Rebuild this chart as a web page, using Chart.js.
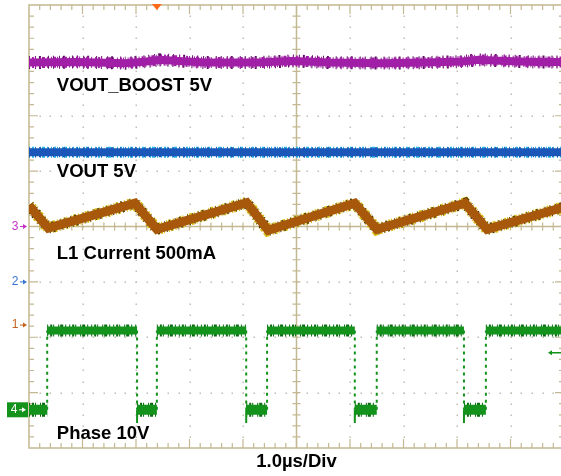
<!DOCTYPE html>
<html>
<head>
<meta charset="utf-8">
<script src="https://cdn.jsdelivr.net/npm/chart.js@4.4.1/dist/chart.umd.min.js"></script>
<style>
  html, body { margin: 0; padding: 0; background: #ffffff; overflow: hidden; }
  #wrap { position: relative; width: 580px; height: 476px; }
</style>
</head>
<body>
<div id="wrap"><canvas id="scope" width="580" height="476"></canvas></div>
<script>
// ---- Trace data (x in µs, 1 µs per division; y in divisions from screen centre) ----
const boostT = [0, 0.9, 1.8, 2.2, 2.45, 2.8, 3.3, 4.3, 4.9, 5.2, 5.6, 6.6, 7.4, 8.1, 8.4, 8.9, 9.5, 10];
const boostV = [2.96, 2.97, 2.95, 2.98, 3.01, 2.99, 2.96, 2.96, 2.99, 2.98, 2.96, 2.95, 2.96, 2.98, 3.01, 2.99, 2.97, 2.97];

const voutT = [0, 10];
const voutV = [1.34, 1.34];

const inductorT = [0, 0.36, 1.98, 2.39, 4.07, 4.47, 6.09, 6.50, 8.15, 8.56, 10.0];
const inductorV = [0.38, -0.03, 0.42, -0.05, 0.43, -0.07, 0.42, -0.05, 0.42, -0.05, 0.35];

const phaseRise = [0.34, 2.39, 4.45, 6.50, 8.54];
const phaseFall = [2.02, 4.06, 6.09, 8.13];
const phaseHigh = -1.88;
const phaseLow = -3.31;
const phaseUndershoot = -3.55;

// ---- Screen annotations ----
const channelLabels = ['VOUT_BOOST 5V', 'VOUT 5V', 'L1 Current 500mA', 'Phase 10V'];
const timebaseLabel = '1.0µs/Div';
const channelMarkers = ['3', '2', '1'];
const markerLevels = [0, -1.0, -1.78];
const triggerTime = 2.39;
const triggerLevel = -2.28;

const X_DIVS = 10, Y_DIVS = 8;

const pts = (ts, vs) => ts.map((t, i) => ({ x: t, y: vs[i] }));

// Phase node: flat high/low plateaus plus the switching edges
const phaseHighPts = [];
phaseRise.forEach((t, i) => {
  const end = i < phaseFall.length ? phaseFall[i] : X_DIVS;
  phaseHighPts.push({ x: t, y: phaseHigh }, { x: end, y: phaseHigh }, { x: end, y: null });
});
const phaseLowPts = [{ x: 0, y: phaseLow }, { x: phaseRise[0], y: phaseLow }, { x: phaseRise[0], y: null }];
phaseFall.forEach((t, i) => {
  phaseLowPts.push({ x: t, y: phaseLow }, { x: phaseRise[i + 1], y: phaseLow }, { x: phaseRise[i + 1], y: null });
});
const phaseEdgePts = [];
phaseRise.forEach(t => phaseEdgePts.push({ x: t, y: phaseLow }, { x: t, y: phaseHigh }, { x: t, y: null }));
phaseFall.forEach(t => phaseEdgePts.push({ x: t, y: phaseHigh }, { x: t, y: phaseLow }, { x: t, y: null }));
const phaseSpikePts = [];
phaseFall.forEach(t => phaseSpikePts.push({ x: t, y: phaseLow }, { x: t, y: phaseUndershoot }, { x: t, y: null }));

function trace(data, color, width, order, extra) {
  return Object.assign({
    data, showLine: true, borderColor: color, borderWidth: width, order,
    pointRadius: 0, pointHoverRadius: 0, fill: false, spanGaps: false,
    borderCapStyle: 'butt', borderJoinStyle: 'miter', tension: 0
  }, extra || {});
}

// uneven dash patterns give the traces a grainy, sampled edge
const GRAIN_A = [1, 2, 2, 1, 1, 4, 1, 1, 3, 2, 1, 3];
const GRAIN_B = [1, 5, 1, 3, 2, 7, 1, 4];

const BOOST = '#a01fa6', BOOST_FUZZ = '#5c0f62';
const VOUT = '#1b57b8', VOUT_FUZZ = '#26b4e6';
const IND = '#a8580a', IND_FUZZ = '#d8c21a';
const PHASE = '#13921c', PHASE_FUZZ = '#0b6a12';
const AXIS = '#c3b892';

// Scope graticule: dotted divisions, border with ticks, centre cross with ticks
const graticule = {
  id: 'graticule',
  beforeDatasetsDraw(chart) {
    const { ctx, chartArea: a, scales: { x, y } } = chart;
    ctx.save();
    ctx.fillStyle = '#c2beb2';
    for (let i = 1; i < X_DIVS; i++) {
      if (i === X_DIVS / 2) continue;
      const px = Math.round(x.getPixelForValue(i));
      for (let k = 1; k < Y_DIVS * 5; k++) {
        const py = Math.round(y.getPixelForValue(-Y_DIVS / 2 + k * 0.2));
        ctx.fillRect(px - 0.5, py - 0.5, 1.5, 1.5);
      }
    }
    for (let j = 1; j < Y_DIVS; j++) {
      if (j === Y_DIVS / 2) continue;
      const py = Math.round(y.getPixelForValue(-Y_DIVS / 2 + j));
      for (let k = 1; k < X_DIVS * 5; k++) {
        const px = Math.round(x.getPixelForValue(k * 0.2));
        ctx.fillRect(px - 0.5, py - 0.5, 1.5, 1.5);
      }
    }
    ctx.strokeStyle = AXIS;
    ctx.lineWidth = 1.5;
    ctx.strokeRect(a.left, a.top, a.right - a.left, a.bottom - a.top);
    const cx = x.getPixelForValue(X_DIVS / 2), cy = y.getPixelForValue(0);
    ctx.beginPath();
    ctx.moveTo(cx, a.top); ctx.lineTo(cx, a.bottom);
    ctx.moveTo(a.left, cy); ctx.lineTo(a.right, cy);
    ctx.stroke();
    ctx.lineWidth = 1.2;
    ctx.beginPath();
    for (let k = 1; k < X_DIVS * 5; k++) {
      const px = x.getPixelForValue(k * 0.2);
      const len = k % 5 === 0 ? 9 : 5;
      ctx.moveTo(px, a.top); ctx.lineTo(px, a.top + len);
      ctx.moveTo(px, a.bottom); ctx.lineTo(px, a.bottom - len);
      ctx.moveTo(px, cy - 4); ctx.lineTo(px, cy + 4);
    }
    for (let k = 1; k < Y_DIVS * 5; k++) {
      const py = y.getPixelForValue(-Y_DIVS / 2 + k * 0.2);
      const len = k % 5 === 0 ? 9 : 5;
      ctx.moveTo(a.left, py); ctx.lineTo(a.left + len, py);
      ctx.moveTo(a.right, py); ctx.lineTo(a.right - len, py);
      ctx.moveTo(cx - 4, py); ctx.lineTo(cx + 4, py);
    }
    ctx.stroke();
    ctx.restore();
  }
};

function arrow(ctx, x0, x1, yv, color, w) {
  const dir = Math.sign(x1 - x0);
  ctx.strokeStyle = color; ctx.fillStyle = color; ctx.lineWidth = w;
  ctx.beginPath(); ctx.moveTo(x0, yv); ctx.lineTo(x1 - dir * 3, yv); ctx.stroke();
  ctx.beginPath();
  ctx.moveTo(x1, yv); ctx.lineTo(x1 - dir * 4, yv - 2.5); ctx.lineTo(x1 - dir * 4, yv + 2.5);
  ctx.closePath(); ctx.fill();
}

// Channel names, timebase, ground markers and trigger indicators
const annotations = {
  id: 'annotations',
  afterDatasetsDraw(chart) {
    const { ctx, chartArea: a, scales: { x, y } } = chart;
    ctx.save();
    ctx.fillStyle = '#000000';
    ctx.font = 'bold 18.5px "Liberation Sans", Arial, sans-serif';
    ctx.textBaseline = 'middle';
    ctx.textAlign = 'left';
    const labelX = x.getPixelForValue(0.52);
    const labelLevels = [2.53, 0.98, -0.50, -3.75];
    channelLabels.forEach((t, i) => ctx.fillText(t, labelX, y.getPixelForValue(labelLevels[i])));
    ctx.textAlign = 'center';
    ctx.fillText(timebaseLabel, x.getPixelForValue(X_DIVS / 2), a.bottom + 14);

    // ground reference markers on the left edge
    const markerColors = ['#c132c4', '#3a74d0', '#c2621e'];
    ctx.font = '12px "Liberation Sans", Arial, sans-serif';
    channelMarkers.forEach((m, i) => {
      const py = y.getPixelForValue(markerLevels[i]);
      ctx.fillStyle = markerColors[i];
      ctx.fillText(m, a.left - 14, py);
      arrow(ctx, a.left - 9, a.left - 2, py, markerColors[i], 1);
    });
    const p4 = y.getPixelForValue(phaseLow);
    ctx.fillStyle = PHASE;
    ctx.fillRect(a.left - 22, p4 - 7.5, 21, 15);
    ctx.fillStyle = '#ffffff';
    ctx.fillText('4', a.left - 15, p4);
    arrow(ctx, a.left - 10, a.left - 3, p4, '#ffffff', 1);

    // trigger position and level
    const tx = x.getPixelForValue(triggerTime);
    ctx.fillStyle = '#ff6a1a';
    ctx.beginPath();
    ctx.moveTo(tx - 5, a.top - 1); ctx.lineTo(tx + 5, a.top - 1); ctx.lineTo(tx, a.top + 5);
    ctx.closePath(); ctx.fill();
    arrow(ctx, a.right - 2, a.right - 16, y.getPixelForValue(triggerLevel), PHASE, 1.5);
    ctx.restore();
  }
};

new Chart(document.getElementById('scope'), {
  type: 'scatter',
  data: {
    datasets: [
      trace(pts(boostT, boostV), BOOST, 8, 1),
      trace(pts(boostT, boostV), BOOST, 11, 2, { borderDash: GRAIN_A }),
      trace(pts(boostT, boostV), BOOST_FUZZ, 13, 3, { borderDash: GRAIN_B }),
      trace(pts(voutT, voutV), VOUT, 8, 1),
      trace(pts(voutT, voutV), VOUT, 10, 2, { borderDash: GRAIN_B }),
      trace(pts(voutT, voutV), VOUT_FUZZ, 11, 3, { borderDash: GRAIN_A }),
      trace(pts(inductorT, inductorV), IND, 9, 1),
      trace(pts(inductorT, inductorV), '#3e3406', 11, 2, { borderDash: GRAIN_B }),
      trace(pts(inductorT, inductorV), IND_FUZZ, 12, 3, { borderDash: GRAIN_A }),
      trace(phaseHighPts, PHASE, 8, 1),
      trace(phaseHighPts, PHASE_FUZZ, 12, 2, { borderDash: GRAIN_A }),
      trace(phaseLowPts, PHASE, 10, 1),
      trace(phaseLowPts, PHASE_FUZZ, 14, 2, { borderDash: GRAIN_A }),
      trace(phaseEdgePts, PHASE, 2, 1, { borderDash: [3, 4] }),
      trace(phaseSpikePts, PHASE, 2, 1)
    ]
  },
  options: {
    responsive: false,
    animation: false,
    events: [],
    layout: { padding: { left: 29, right: 16, top: 5, bottom: 28 } },
    plugins: { legend: { display: false }, tooltip: { enabled: false } },
    scales: {
      x: { type: 'linear', min: 0, max: X_DIVS, display: false },
      y: { type: 'linear', min: -Y_DIVS / 2, max: Y_DIVS / 2, display: false }
    }
  },
  plugins: [graticule, annotations]
});
</script>
</body>
</html>
